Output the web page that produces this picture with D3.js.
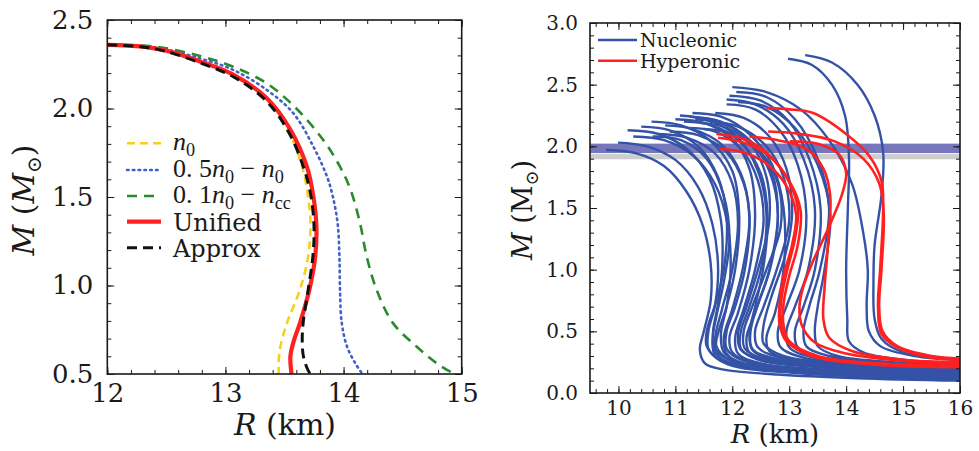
<!DOCTYPE html>
<html><head><meta charset="utf-8">
<script src="https://cdn.jsdelivr.net/npm/d3@7"></script>
<style>
body{margin:0;background:#fff;}
svg{display:block;}
text{font-family:"DejaVu Serif",serif;fill:#1a1a1a;}
</style></head><body>
<svg id="c" width="979" height="451"></svg>
<script>
// ---------------- data ----------------
const leftXTicks = [12, 13, 14, 15];
const leftYTicks = [0.5, 1.0, 1.5, 2.0, 2.5];
const rightXTicks = [10, 11, 12, 13, 14, 15, 16];
const rightYTicks = [0.0, 0.5, 1.0, 1.5, 2.0, 2.5, 3.0];

// left panel series: [R (km), M (Msun)]
const curveN0 = [[12.0,2.36],[12.3,2.35],[12.5,2.327],[12.785,2.266],[13.07,2.19],[13.35,2.058],[13.53,1.88],[13.65,1.67],[13.70,1.50],[13.72,1.35],[13.70,1.163],[13.63,0.975],[13.52,0.786],[13.46,0.636],[13.45,0.52],[13.45,0.5]];
const curveHalfN0 = [[12.0,2.36],[12.4,2.345],[12.785,2.283],[13.066,2.218],[13.35,2.105],[13.575,1.973],[13.745,1.784],[13.86,1.615],[13.91,1.5],[13.95,1.35],[13.965,1.163],[13.97,0.975],[13.985,0.786],[14.03,0.654],[14.1,0.56],[14.16,0.5]];
const curveTenthN0 = [[12.0,2.36],[12.4,2.35],[12.785,2.297],[13.066,2.236],[13.35,2.142],[13.6,2.0],[13.83,1.82],[13.97,1.671],[14.06,1.54],[14.14,1.35],[14.196,1.163],[14.28,0.975],[14.42,0.786],[14.62,0.654],[14.79,0.56],[14.93,0.504],[14.95,0.5]];
const curveUnified = [[12.0,2.36],[12.3,2.35],[12.5,2.327],[12.785,2.266],[13.07,2.19],[13.35,2.058],[13.55,1.88],[13.69,1.67],[13.745,1.50],[13.77,1.336],[13.76,1.163],[13.71,0.975],[13.63,0.786],[13.58,0.69],[13.55,0.6],[13.56,0.5]];
const curveApprox = [[12.0,2.36],[12.3,2.348],[12.5,2.322],[12.785,2.258],[13.07,2.178],[13.35,2.04],[13.54,1.86],[13.67,1.65],[13.725,1.50],[13.75,1.33],[13.74,1.163],[13.70,0.975],[13.66,0.8],[13.65,0.7],[13.66,0.6],[13.70,0.52],[13.72,0.5]];

// right panel: nucleonic and hyperonic M-R curves
const nucleonicCurves = [
 [[9.78,1.97],[10.3,1.945],[10.8,1.84],[11.2,1.63],[11.48,1.36],[11.62,1.05],[11.62,0.75],[11.5,0.5],[11.43,0.35],[11.52,0.24],[11.85,0.19],[12.8,0.15],[14.2,0.12],[16,0.1]],
 [[9.99,2.03],[10.5,2.0],[11.0,1.89],[11.4,1.67],[11.65,1.37],[11.75,1.02],[11.7,0.72],[11.58,0.5],[11.58,0.36],[11.8,0.26],[12.6,0.19],[14,0.14],[16,0.12]],
 [[10.16,2.13],[10.7,2.1],[11.2,1.98],[11.6,1.74],[11.8,1.4],[11.82,1.0],[11.74,0.7],[11.66,0.48],[11.72,0.34],[12.0,0.26],[13,0.19],[16,0.14]],
 [[10.26,2.08],[10.8,2.05],[11.3,1.93],[11.7,1.69],[11.92,1.36],[11.97,1.0],[11.9,0.7],[11.8,0.48],[11.85,0.33],[12.2,0.24],[13.5,0.17],[16,0.13]],
 [[10.58,2.2],[11.1,2.17],[11.6,2.05],[12.0,1.8],[12.12,1.45],[12.05,1.0],[11.9,0.7],[11.76,0.5],[11.72,0.38],[11.95,0.27],[13,0.2],[16,0.16]],
 [[10.82,2.17],[11.3,2.14],[11.8,2.02],[12.15,1.78],[12.3,1.45],[12.22,1.0],[12.05,0.7],[11.9,0.5],[11.9,0.36],[12.2,0.26],[13.5,0.19],[16,0.15]],
 [[11.08,2.25],[11.6,2.21],[12.1,2.07],[12.45,1.8],[12.6,1.45],[12.5,1.0],[12.3,0.7],[12.15,0.5],[12.15,0.36],[12.45,0.27],[13.5,0.21],[16,0.17]],
 [[11.0,2.22],[11.5,2.19],[12.0,2.06],[12.3,1.82],[12.4,1.45],[12.3,1.0],[12.1,0.65],[11.95,0.45],[12.0,0.33],[12.3,0.25],[13.5,0.19],[16,0.15]],
 [[11.43,2.19],[11.9,2.15],[12.35,2.0],[12.6,1.75],[12.65,1.4],[12.45,1.0],[12.25,0.7],[12.1,0.48],[12.15,0.35],[12.5,0.27],[14,0.2],[16,0.17]],
 [[11.25,2.24],[11.8,2.2],[12.3,2.05],[12.65,1.8],[12.8,1.45],[12.65,1.0],[12.4,0.65],[12.25,0.45],[12.3,0.33],[12.7,0.26],[14,0.2],[16,0.17]],
 [[11.2,2.15],[11.7,2.12],[12.15,1.98],[12.45,1.72],[12.55,1.4],[12.4,1.0],[12.2,0.68],[12.05,0.45],[12.1,0.32],[12.5,0.24],[14,0.18],[16,0.14]],
 [[11.6,2.2],[12.1,2.16],[12.6,2.0],[12.9,1.75],[13.0,1.4],[12.78,1.0],[12.55,0.7],[12.4,0.5],[12.45,0.37],[12.9,0.28],[14,0.22],[16,0.19]],
 [[10.9,2.12],[11.4,2.09],[11.9,1.95],[12.2,1.7],[12.3,1.4],[12.18,1.0],[12.0,0.68],[11.85,0.45],[11.9,0.32],[12.2,0.23],[13.5,0.16],[16,0.12]],
 [[11.3,2.27],[11.8,2.24],[12.3,2.1],[12.7,1.85],[12.9,1.5],[12.9,1.0],[12.75,0.65],[12.6,0.45],[12.65,0.34],[13.0,0.27],[14.2,0.22],[16,0.19]],
 [[10.7,2.1],[11.2,2.07],[11.7,1.94],[12.0,1.7],[12.1,1.38],[12.0,1.0],[11.82,0.68],[11.7,0.45],[11.72,0.32],[12.0,0.24],[13.5,0.17],[16,0.13]],
 [[11.5,2.14],[12.0,2.1],[12.5,1.95],[12.8,1.7],[12.85,1.35],[12.6,1.0],[12.35,0.7],[12.2,0.5],[12.22,0.36],[12.6,0.27],[14,0.21],[16,0.18]],
 [[10.4,2.16],[10.9,2.13],[11.4,2.0],[11.75,1.75],[11.9,1.42],[11.85,1.0],[11.7,0.72],[11.55,0.5],[11.55,0.38],[11.75,0.28],[12.8,0.2],[16,0.15]],
 [[11.15,2.2],[11.65,2.17],[12.15,2.03],[12.5,1.78],[12.62,1.42],[12.54,1.0],[12.4,0.7],[12.3,0.48],[12.35,0.35],[12.7,0.27],[14,0.21],[16,0.18]],
 [[11.35,2.22],[11.85,2.18],[12.35,2.03],[12.7,1.78],[12.8,1.4],[12.66,1.0],[12.45,0.72],[12.32,0.5],[12.35,0.36],[12.75,0.28],[14.2,0.22],[16,0.2]],
 [[10.6,2.08],[11.1,2.05],[11.55,1.9],[11.85,1.6],[11.95,1.25],[11.85,0.9],[11.72,0.62],[11.65,0.42],[11.7,0.3],[12.0,0.22],[13.2,0.16],[16,0.11]],
 [[11.7,2.27],[12.2,2.23],[12.65,2.08],[12.95,1.82],[13.05,1.45],[12.92,1.1],[12.7,0.8],[12.55,0.55],[12.55,0.4],[12.9,0.3],[14.2,0.23],[16,0.2]],
 [[11.9,2.38],[12.4,2.34],[12.9,2.18],[13.25,1.9],[13.45,1.5],[13.33,1.0],[13.1,0.7],[12.95,0.5],[13.0,0.37],[13.4,0.29],[14.5,0.24],[16,0.21]],
 [[11.9,2.34],[12.4,2.3],[12.85,2.12],[13.15,1.85],[13.3,1.45],[13.18,1.0],[12.95,0.7],[12.8,0.5],[12.85,0.37],[13.3,0.28],[14.5,0.23],[16,0.2]],
 [[12.07,2.44],[12.6,2.4],[13.1,2.22],[13.5,1.9],[13.7,1.5],[13.54,1.0],[13.35,0.7],[13.25,0.5],[13.3,0.38],[13.7,0.3],[14.7,0.25],[16,0.22]],
 [[11.95,2.41],[12.5,2.37],[13.0,2.2],[13.35,1.9],[13.55,1.5],[13.45,1.0],[13.25,0.7],[13.1,0.5],[13.15,0.37],[13.55,0.29],[14.6,0.24],[16,0.21]],
 [[12.1,2.36],[12.6,2.32],[13.1,2.15],[13.5,1.85],[13.72,1.45],[13.62,1.0],[13.5,0.7],[13.45,0.5],[13.5,0.38],[13.85,0.3],[14.8,0.25],[16,0.22]],
 [[12.0,2.48],[12.6,2.44],[13.2,2.3],[13.7,2.05],[14.1,1.7],[14.3,1.3],[14.38,1.0],[14.36,0.7],[14.4,0.5],[14.6,0.38],[15.2,0.3],[16,0.27]],
 [[12.98,2.71],[13.4,2.66],[13.75,2.5],[13.98,2.25],[14.05,1.9],[14.03,1.5],[14.0,1.0],[14.02,0.6],[14.05,0.42],[14.3,0.33],[15,0.27],[16,0.24]],
 [[13.28,2.74],[13.75,2.68],[14.2,2.5],[14.5,2.25],[14.65,1.95],[14.62,1.6],[14.5,1.2],[14.48,0.9],[14.5,0.6],[14.62,0.44],[15.0,0.33],[16,0.27]]
];
const hyperonicCurves = [
 [[11.72,2.1],[12.2,2.06],[12.6,1.95],[12.95,1.75],[13.15,1.5],[13.1,1.25],[12.95,0.97],[12.86,0.75],[12.85,0.58],[12.95,0.43],[13.4,0.3],[14.5,0.23],[16,0.21]],
 [[11.78,1.98],[12.2,1.95],[12.6,1.86],[12.95,1.68],[13.12,1.45],[13.05,1.2],[12.9,0.95],[12.83,0.72],[12.83,0.56],[12.95,0.42],[13.4,0.3],[14.5,0.24],[16,0.22]],
 [[11.75,2.07],[12.2,2.03],[12.65,1.92],[13.0,1.72],[13.2,1.48],[13.15,1.2],[13.0,0.95],[12.9,0.72],[12.9,0.55],[13.0,0.42],[13.5,0.3],[14.5,0.24],[16,0.22]],
 [[12.6,2.31],[13.0,2.3],[13.42,2.27],[14.0,2.1],[14.41,1.92],[14.62,1.72],[14.65,1.5],[14.6,1.02],[14.56,0.7],[14.62,0.48],[14.88,0.375],[15.46,0.29],[16,0.27]],
 [[12.63,2.12],[13.2,2.1],[13.8,2.04],[14.3,1.9],[14.58,1.7],[14.66,1.45],[14.62,1.0],[14.58,0.7],[14.64,0.5],[14.9,0.38],[15.5,0.3],[16,0.28]],
 [[13.01,2.04],[13.5,2.02],[13.88,1.93],[14.0,1.78],[13.92,1.6],[13.7,1.35],[13.4,1.05],[13.24,0.85],[13.18,0.7],[13.22,0.55],[13.45,0.41],[14.0,0.32],[15,0.26],[16,0.24]],
 [[12.3,2.08],[12.8,2.05],[13.3,1.98],[13.6,1.82],[13.72,1.6],[13.68,1.2],[13.62,0.85],[13.6,0.6],[13.7,0.45],[14.1,0.34],[15,0.27],[16,0.25]]
];
const bandBlue = [1.945, 2.022];
const bandGrey = [1.895, 1.937];

// ---------------- drawing ----------------
const svg = d3.select("#c");
const INK = "#1a1a1a";
const MATH = "Liberation Serif";

function drawFrame(g, x, y, opt) {
  const [x0, x1] = x.range(), [y0, y1] = y.range();
  const xd = x.domain(), yd = y.domain();
  const minorX = d3.range(Math.ceil(xd[0] / opt.xMinor - 1e-9), Math.floor(xd[1] / opt.xMinor + 1e-9) + 1).map(i => +(i * opt.xMinor).toFixed(4));
  const minorY = d3.range(Math.ceil(yd[0] / opt.yMinor - 1e-9), Math.floor(yd[1] / opt.yMinor + 1e-9) + 1).map(i => +(i * opt.yMinor).toFixed(4));
  const style = sel => {
    sel.select(".domain").remove();
    sel.selectAll("line").attr("stroke", INK).attr("stroke-width", 1);
  };
  const lab = s => s.selectAll("text").style("font-size", opt.fs + "px").attr("fill", INK).style("font-family", "DejaVu Serif");
  g.append("g").attr("transform", `translate(0,${y0})`)
    .call(d3.axisBottom(x).tickValues(opt.xTicks).tickSize(-7).tickPadding(opt.xPad).tickFormat(d3.format("d")))
    .call(style).call(lab);
  g.append("g").attr("transform", `translate(${x0},0)`)
    .call(d3.axisLeft(y).tickValues(opt.yTicks).tickSize(-7).tickPadding(opt.yPad).tickFormat(d3.format(".1f")))
    .call(style).call(lab);
  g.append("g").attr("transform", `translate(0,${y1})`).call(d3.axisTop(x).tickValues(opt.xTicks).tickSize(-7).tickFormat("")).call(style);
  g.append("g").attr("transform", `translate(${x1},0)`).call(d3.axisRight(y).tickValues(opt.yTicks).tickSize(-7).tickFormat("")).call(style);
  g.append("g").attr("transform", `translate(0,${y0})`).call(d3.axisBottom(x).tickValues(minorX).tickSize(-4).tickFormat("")).call(style);
  g.append("g").attr("transform", `translate(0,${y1})`).call(d3.axisTop(x).tickValues(minorX).tickSize(-4).tickFormat("")).call(style);
  g.append("g").attr("transform", `translate(${x0},0)`).call(d3.axisLeft(y).tickValues(minorY).tickSize(-4).tickFormat("")).call(style);
  g.append("g").attr("transform", `translate(${x1},0)`).call(d3.axisRight(y).tickValues(minorY).tickSize(-4).tickFormat("")).call(style);
  g.append("rect").attr("x", x0).attr("y", y1).attr("width", x1 - x0).attr("height", y0 - y1)
    .attr("fill", "none").attr("stroke", INK).attr("stroke-width", 1.6);
}

function clip(id, x, y) {
  svg.append("clipPath").attr("id", id).append("rect")
    .attr("x", x.range()[0]).attr("y", y.range()[1])
    .attr("width", x.range()[1] - x.range()[0]).attr("height", y.range()[0] - y.range()[1]);
}

// text with italic / subscript parts; sub shift in px
function mathText(g, x, y, parts, fs, family) {
  const t = g.append("text").attr("x", x).attr("y", y).style("font-size", fs + "px");
  if (family) t.style("font-family", family);
  const shift = Math.round(fs * 0.22);
  let down = false;
  parts.forEach(p => {
    const ts = t.append("tspan").text(p.t);
    if (p.i) ts.style("font-style", "italic");
    if (p.sub) {
      ts.style("font-size", (fs * 0.7) + "px");
      if (!down) { ts.attr("dy", shift); down = true; }
    } else if (down) { ts.attr("dy", -shift); down = false; }
  });
  return t;
}

// ===== left panel =====
const xL = d3.scaleLinear().domain([12, 15]).range([107.3, 461.7]);
const yL = d3.scaleLinear().domain([0.5, 2.5]).range([374, 20]);
clip("clipL", xL, yL);
const lineL = d3.line().x(d => xL(d[0])).y(d => yL(d[1])).curve(d3.curveCatmullRom.alpha(0.5));
const gL = svg.append("g");
const gLc = gL.append("g").attr("clip-path", "url(#clipL)");
const leftStyles = [
  {data: curveTenthN0, color: "#2a8a2e", w: 2.6, dash: "10,7"},
  {data: curveHalfN0, color: "#4361c4", w: 2.6, dash: "1.6,4.2", cap: "round"},
  {data: curveN0, color: "#f6d01a", w: 2.6, dash: "8,5"},
  {data: curveUnified, color: "#ff2020", w: 4.2, dash: null},
  {data: curveApprox, color: "#111111", w: 3, dash: "10,6"}
];
leftStyles.forEach(s => {
  gLc.append("path").attr("d", lineL(s.data)).attr("fill", "none").attr("stroke", s.color)
    .attr("stroke-width", s.w).attr("stroke-dasharray", s.dash).attr("stroke-linecap", s.cap || "butt");
});
drawFrame(gL, xL, yL, {xTicks: leftXTicks, yTicks: leftYTicks, xMinor: 0.2, yMinor: 0.1, fs: 26, xPad: 10, yPad: 14});

// left legend
const legL = gL.append("g");
const legRows = [
  {y: 143.3, s: leftStyles[2]}, {y: 170, s: leftStyles[1]}, {y: 196, s: leftStyles[0]},
  {y: 221.7, s: leftStyles[3]}, {y: 247.7, s: leftStyles[4]}
];
legRows.forEach(r => {
  legL.append("line").attr("x1", 127).attr("x2", 161).attr("y1", r.y).attr("y2", r.y)
    .attr("stroke", r.s.color).attr("stroke-width", r.s.w).attr("stroke-dasharray", r.s.dash)
    .attr("stroke-linecap", r.s.cap || "butt");
});
const MFS = 26;
mathText(legL, 173, 150, [{t: "n", i: 1}, {t: "0", sub: 1}], MFS, MATH);
mathText(legL, 173, 177, [{t: "0. 5"}, {t: "n", i: 1}, {t: "0", sub: 1}, {t: " − "}, {t: "n", i: 1}, {t: "0", sub: 1}], MFS, MATH);
mathText(legL, 173, 203, [{t: "0. 1"}, {t: "n", i: 1}, {t: "0", sub: 1}, {t: " − "}, {t: "n", i: 1}, {t: "cc", sub: 1}], MFS, MATH);
mathText(legL, 173, 230.5, [{t: "Unified"}], 24);
mathText(legL, 173, 256.5, [{t: "Approx"}], 24);

// left axis titles
mathText(gL, 285, 435, [{t: "R", i: 1}, {t: " (km)"}], 30).attr("text-anchor", "middle");
{
  const t = gL.append("text").attr("transform", "translate(34,200) rotate(-90)").attr("text-anchor", "middle").style("font-size", "30px");
  t.append("tspan").style("font-style", "italic").text("M");
  t.append("tspan").text(" (");
  t.append("tspan").style("font-style", "italic").text("M");
  t.append("tspan").attr("dy", 7).style("font-size", "20px").text("⊙");
  t.append("tspan").attr("dy", -7).text(")");
}

// ===== right panel =====
const xR = d3.scaleLinear().domain([9.5, 16]).range([590, 960]);
const yR = d3.scaleLinear().domain([0, 3]).range([393, 23]);
clip("clipR", xR, yR);
const lineR = d3.line().x(d => xR(d[0])).y(d => yR(d[1])).curve(d3.curveCatmullRom.alpha(0.5));
const gR = svg.append("g");
const gRc = gR.append("g").attr("clip-path", "url(#clipR)");
gRc.append("rect").attr("x", xR(9.5)).attr("width", xR(16) - xR(9.5))
  .attr("y", yR(bandGrey[1])).attr("height", yR(bandGrey[0]) - yR(bandGrey[1])).attr("fill", "#cdcdcd");
gRc.append("rect").attr("x", xR(9.5)).attr("width", xR(16) - xR(9.5))
  .attr("y", yR(bandBlue[1])).attr("height", yR(bandBlue[0]) - yR(bandBlue[1])).attr("fill", "#7676bd");
const BLUE = "#3452a6", RED = "#ff2020";
gRc.selectAll("path.nuc").data(nucleonicCurves).join("path").attr("class", "nuc")
  .attr("d", lineR).attr("fill", "none").attr("stroke", BLUE).attr("stroke-width", 2.4);
gRc.selectAll("path.hyp").data(hyperonicCurves).join("path").attr("class", "hyp")
  .attr("d", lineR).attr("fill", "none").attr("stroke", RED).attr("stroke-width", 2.6);
drawFrame(gR, xR, yR, {xTicks: rightXTicks, yTicks: rightYTicks, xMinor: 0.2, yMinor: 0.1, fs: 20, xPad: 8, yPad: 12});

// right legend
const legR = gR.append("g");
[{y: 40, c: BLUE, t: "Nucleonic"}, {y: 60.7, c: RED, t: "Hyperonic"}].forEach(r => {
  legR.append("line").attr("x1", 598).attr("x2", 637).attr("y1", r.y).attr("y2", r.y)
    .attr("stroke", r.c).attr("stroke-width", 2.4);
  legR.append("text").attr("x", 640).attr("y", r.y + 7).style("font-size", "19px").text(r.t);
});
mathText(gR, 775, 443, [{t: "R", i: 1}, {t: " (km)"}], 26).attr("text-anchor", "middle");
{
  const t = gR.append("text").attr("transform", "translate(532,210) rotate(-90)").attr("text-anchor", "middle").style("font-size", "27px");
  t.append("tspan").style("font-style", "italic").text("M");
  t.append("tspan").text(" (M");
  t.append("tspan").attr("dy", 6).style("font-size", "18px").text("⊙");
  t.append("tspan").attr("dy", -6).text(")");
}
</script>
</body></html>
